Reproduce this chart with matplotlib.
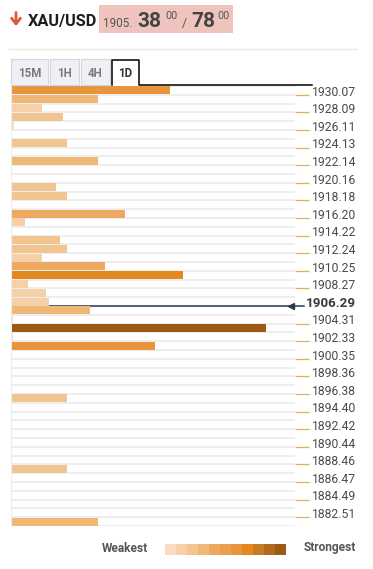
import numpy as np
import matplotlib.pyplot as plt
import matplotlib.transforms as mtransforms
from matplotlib.patches import Rectangle

plt.rcParams['font.family'] = ['Roboto', 'DejaVu Sans']

# price levels shown on the right axis (every second row)
price_labels = ["1930.07", "1928.09", "1926.11", "1924.13", "1922.14", "1920.16",
                "1918.18", "1916.20", "1914.22", "1912.24", "1910.25", "1908.27",
                "1906.29", "1904.31", "1902.33", "1900.35", "1898.36", "1896.38",
                "1894.40", "1892.42", "1890.44", "1888.46", "1886.47", "1884.49",
                "1882.51"]
current_price = 1906.29

# confluence strength per row, top (1930.07) to bottom
strength = [15.0, 8.2, 2.9, 4.9, 0.3, 0, 5.3, 0, 8.2, 0,
            0, 4.2, 5.3, 0, 10.8, 1.3, 0, 4.6, 5.3, 2.9,
            8.9, 16.2, 1.6, 3.3, 3.6, 7.5, 0.2, 24.1, 0.2, 13.6,
            0, 0, 0, 0, 0, 5.3, 0, 0, 0, 0,
            0, 0, 0, 5.3, 0, 0, 0, 0, 0, 8.2]

palette = ["#f8dcc0", "#f5d0a9", "#f2c590", "#efb877", "#eca95f", "#e99f4c",
           "#e8953b", "#e3871f", "#c97a24", "#b2691d", "#9c5a15"]

W, H = 373, 569
fig = plt.figure(figsize=(W / 100, H / 100), dpi=100)

# main chart area in pixels
x0, x1, ytop, ybot = 11, 295, 86, 526
ax = fig.add_axes([x0 / W, (H - ybot) / H, (x1 - x0) / W, (ybot - ytop) / H])

n = len(strength)
rows = np.arange(n)
smax = max(strength)
colors = [palette[int(round(s / smax * 10))] for s in strength]

for i in range(n + 1):
    ax.axhline(i, color="#ededed", lw=1.3, zorder=0)

# current price line (drawn under the bars)
lab_vals = np.array([float(p) for p in price_labels])
tick_pos = np.arange(len(price_labels)) * 2 + 1
cur_pos = np.interp(current_price, lab_vals[::-1], tick_pos[::-1])
ax.axhline(cur_pos, xmin=0, xmax=0.99, color="#2b3a52", lw=1.1, zorder=1)

ax.barh(rows + 0.5, strength, height=0.9, color=colors, zorder=2)

ax.set_xlim(0, 26.8)
ax.set_ylim(n, 0)
for s in ["top", "right", "bottom"]:
    ax.spines[s].set_visible(False)
ax.spines["left"].set_color("#ededed")
ax.set_xticks([])

reg = [p for p, v in zip(tick_pos, lab_vals) if v != current_price]
ax.set_yticks(reg)
ax.tick_params(axis="y", left=False, right=True, labelleft=False, labelright=False,
               length=10, width=0.9, color="#e2ac62")

trans = mtransforms.blended_transform_factory(ax.transAxes, ax.transData)
lx = (356 - x0) / (x1 - x0)
for p, lab in zip(tick_pos, price_labels):
    if float(lab) == current_price:
        ax.text(lx, p + 0.1, lab, transform=trans, ha="right", va="baseline",
                fontsize=9.6, fontweight="bold", color="#3a3a3a", clip_on=False)
    else:
        ax.text(lx, p + 0.1, lab, transform=trans, ha="right", va="baseline",
                fontsize=8.7, color="#4a4a4a", clip_on=False)

ax.plot([0.985], [cur_pos], marker="<", ms=4.5, color="#2b3a52", transform=trans,
        clip_on=False, zorder=5)
ax.plot([0.99, 1.03], [cur_pos, cur_pos], color="#2b3a52", lw=1.1,
        transform=trans, clip_on=False)

# overlay for header, tabs and legend, in pixel coordinates
ov = fig.add_axes([0, 0, 1, 1], zorder=3)
ov.set_xlim(0, W)
ov.set_ylim(H, 0)
ov.set_axis_off()

ov.annotate("", xy=(16, 26), xytext=(16, 12.5),
            arrowprops=dict(arrowstyle="->,head_width=0.32,head_length=0.4",
                            color="#e0553b", lw=2.0, shrinkA=0, shrinkB=0))
ov.text(28, 25.5, "XAU/USD", fontsize=11.8, fontweight="bold", color="#1e1e1e",
        va="baseline")
ov.add_patch(Rectangle((99, 5), 134, 28, color="#efc4be", lw=0))
ov.text(103, 27, "1905.", fontsize=8.4, color="#555555", va="baseline")
ov.text(137, 27, "38", fontsize=15, fontweight="bold", color="#444444", va="baseline")
ov.text(165, 19, "00", fontsize=7.8, color="#555555", va="baseline")
ov.text(182, 27, "/", fontsize=9, color="#555555", va="baseline")
ov.text(191, 27, "78", fontsize=15, fontweight="bold", color="#444444", va="baseline")
ov.text(217, 19, "00", fontsize=7.8, color="#555555", va="baseline")

ov.plot([9, 357], [49, 49], color="#e8e8e8", lw=1)

tabs = [("15M", 11, 48), ("1H", 50, 79), ("4H", 81, 110)]
for lab, a, b in tabs:
    ov.add_patch(Rectangle((a, 59), b - a, 26, facecolor="#eef0f6",
                           edgecolor="#d4d6de", lw=0.8))
    ov.text((a + b) / 2, 73, lab, fontsize=8.3, fontweight="bold", color="#7a7a7a",
            ha="center", va="center")
ov.plot([112, 112, 139, 139, 312], [85, 59.5, 59.5, 85, 85], color="black", lw=1.1)
ov.text(125.5, 73, "1D", fontsize=8.3, fontweight="bold", color="#333333",
        ha="center", va="center")

# strength legend
ov.text(148, 548, "Weakest", fontsize=8.6, fontweight="bold", color="#555555",
        ha="right", va="center")
ov.text(304, 548, "Strongest", fontsize=8.6, fontweight="bold", color="#555555",
        ha="left", va="center")
cw = (286 - 165) / len(palette)
for k, c in enumerate(palette):
    ov.add_patch(Rectangle((165 + k * cw, 543.5), cw + 0.3, 11, color=c, lw=0))

fig.savefig("out.png", dpi=100)
